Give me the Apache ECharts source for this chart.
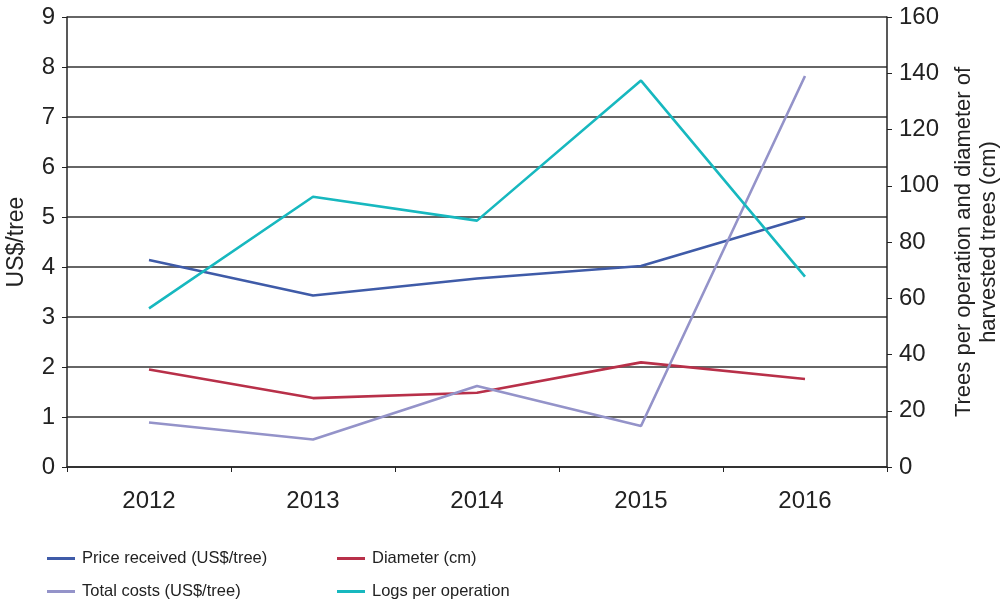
<!DOCTYPE html>
<html><head><meta charset="utf-8">
<script src="https://cdn.jsdelivr.net/npm/echarts@6/dist/echarts.min.js"></script>
<style>html,body{margin:0;padding:0;background:#fff}#c{width:1008px;height:606px}</style>
</head><body><div id="c"></div>
<script>
const years = ['2012','2013','2014','2015','2016'];
const priceReceived = [4.14, 3.43, 3.77, 4.02, 4.99];
const totalCosts = [0.89, 0.55, 1.62, 0.82, 7.82];
const diameter = [34.7, 24.5, 26.4, 37.2, 31.3];
const logsPerOperation = [56.4, 96.1, 87.6, 137.4, 67.7];
const leftTicks = {min: 0, max: 9, interval: 1};
const rightTicks = {min: 0, max: 160, interval: 20};

const font = 'Liberation Sans, Arial, sans-serif';
const chart = echarts.init(document.getElementById('c'));
function line(name, data, color, yIdx){
  return {name, type:'line', data, yAxisIndex:yIdx, symbol:'none',
    lineStyle:{color, width:2.6}, itemStyle:{color}, animation:false};
}
const legendText = {fontSize:16.5, color:'#222', fontFamily:font, padding:[0,0,0,2]};
chart.setOption({
  animation:false,
  textStyle:{fontFamily:font},
  grid:{left:67, right:121, top:17, bottom:139, containLabel:false, outerBoundsMode:'none'},
  legend:[
    {data:['Price received (US$/tree)','Total costs (US$/tree)'], orient:'vertical', left:47, top:550, itemGap:16, padding:0,
     itemWidth:28, itemHeight:3, icon:'rect', textStyle:legendText},
    {data:['Diameter (cm)','Logs per operation'], orient:'vertical', left:337, top:550, itemGap:16, padding:0,
     itemWidth:28, itemHeight:3, icon:'rect', textStyle:legendText}
  ],
  xAxis:{type:'category', data:years, boundaryGap:true,
    axisLine:{lineStyle:{color:'#222', width:1.5}},
    axisTick:{show:true, length:5, lineStyle:{color:'#222'}},
    axisLabel:{fontSize:24, color:'#222', margin:22, fontFamily:font}},
  yAxis:[
    {type:'value', min:leftTicks.min, max:leftTicks.max, interval:leftTicks.interval, position:'left',
     name:'US$/tree', nameLocation:'middle', nameGap:39, nameRotate:90,
     nameTextStyle:{fontSize:23, color:'#222', fontFamily:font},
     axisLine:{show:true, lineStyle:{color:'#222', width:1.5}},
     axisTick:{show:true, length:5, lineStyle:{color:'#222'}},
     axisLabel:{fontSize:24, color:'#222', margin:12, fontFamily:font},
     splitLine:{show:true, lineStyle:{color:'#333', width:1.5}}},
    {type:'value', min:rightTicks.min, max:rightTicks.max, interval:rightTicks.interval, position:'right',
     name:'Trees per operation and diameter of\nharvested trees (cm)', nameLocation:'middle', nameGap:64, nameRotate:90,
     nameTextStyle:{fontSize:22, color:'#222', fontFamily:font, lineHeight:25, align:'center'},
     axisLine:{show:true, lineStyle:{color:'#222', width:1.5}},
     axisTick:{show:true, length:5, lineStyle:{color:'#222'}},
     axisLabel:{fontSize:24, color:'#222', margin:12, fontFamily:font},
     splitLine:{show:false}}
  ],
  series:[
    line('Price received (US$/tree)', priceReceived, '#3f5ba8', 0),
    line('Diameter (cm)', diameter, '#b83049', 1),
    line('Total costs (US$/tree)', totalCosts, '#9493c9', 0),
    line('Logs per operation', logsPerOperation, '#17b8bf', 1)
  ]
});
</script></body></html>
